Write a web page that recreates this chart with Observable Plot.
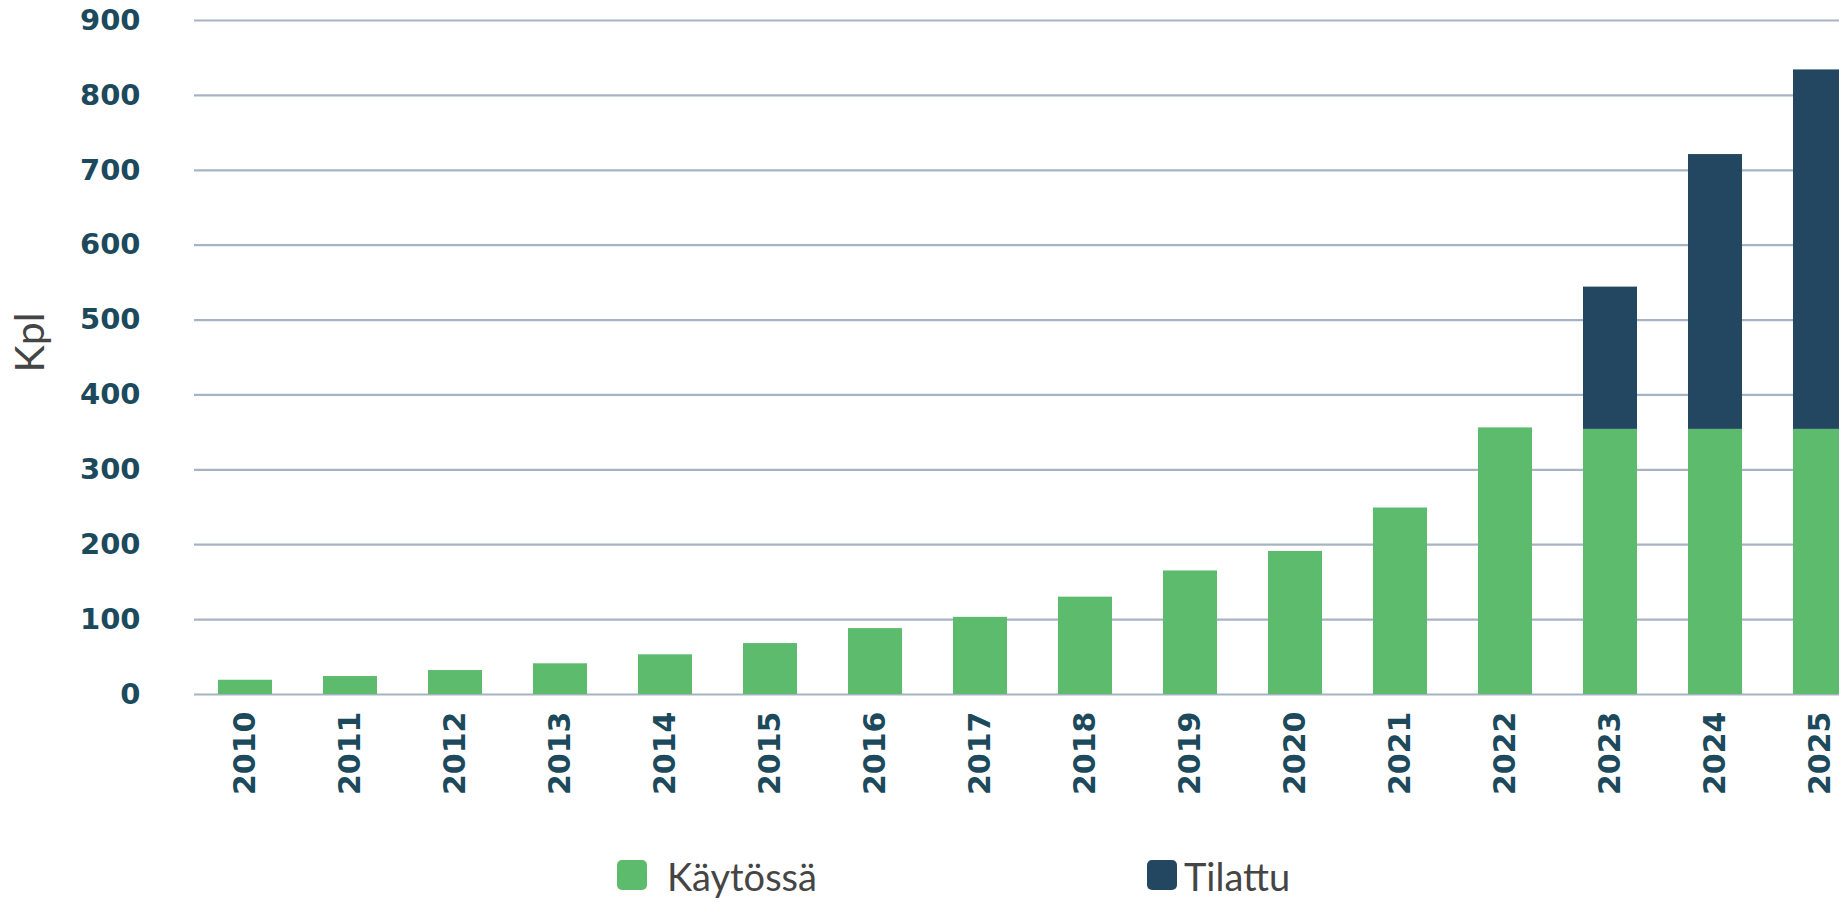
<!DOCTYPE html>
<html>
<head>
<meta charset="utf-8">
<script src="https://cdn.jsdelivr.net/npm/d3@7"></script>
<script src="https://cdn.jsdelivr.net/npm/@observablehq/plot@0.6"></script>
<style>
  html, body { margin: 0; padding: 0; background: #fff; overflow: hidden; }
  #wrap { position: relative; width: 1839px; height: 902px; overflow: hidden; }
  #legend { position: relative; width: 1839px; height: 62px; font-family: Lato, "Open Sans", sans-serif; color: #454545; }
  .sw { position: absolute; width: 30px; height: 30px; border-radius: 5px; }
  .lt { position: absolute; font-size: 38px; line-height: 38px; }
</style>
</head>
<body>
<div id="wrap">
  <div id="chart"></div>
  <div id="legend"></div>
</div>
<script>
const years = ["2010","2011","2012","2013","2014","2015","2016","2017","2018","2019","2020","2021","2022","2023","2024","2025"];
const kaytossa = [19, 24, 32, 41, 53, 68, 88, 103, 130, 165, 191, 249, 356, 354, 354, 354];
const tilattu  = [0, 0, 0, 0, 0, 0, 0, 0, 0, 0, 0, 0, 0, 190, 367, 480];
const seriesNames = ["Käytössä", "Tilattu"];
const seriesColors = ["#5cbb6d", "#244761"];
const yTicks = [0, 100, 200, 300, 400, 500, 600, 700, 800, 900];
const yLabel = "Kpl";

const rows = [];
years.forEach((y, i) => {
  rows.push({year: y, series: seriesNames[0], value: kaytossa[i]});
  rows.push({year: y, series: seriesNames[1], value: tilattu[i]});
});

const H = 840;
const chart = Plot.plot({
  width: 1839,
  height: H,
  marginTop: 20,
  marginBottom: H - 694,
  marginLeft: 194,
  marginRight: 0,
  style: {fontFamily: "DejaVu Sans", background: "#fff"},
  x: {type: "band", domain: years, range: [194, 1870], paddingInner: 0.487, paddingOuter: 0.21, label: null},
  y: {domain: [0, 900], range: [694, 20], label: null},
  color: {domain: seriesNames, range: seriesColors},
  marks: [
    Plot.ruleY(yTicks, {stroke: "#a7b3c3", strokeWidth: 2.2}),
    Plot.barY(rows, {x: "year", y: "value", fill: "series", order: seriesNames}),
    Plot.axisY(yTicks, {tickSize: 0, tickPadding: 54, fontSize: 29, fontWeight: "bold", fill: "#1c4a5c", label: null, fontFamily: "DejaVu Sans"}),
    Plot.axisX({tickSize: 0, tickPadding: 17, tickRotate: -90, fontSize: 30, fontWeight: "bold", fill: "#1c4a5c", label: null, fontFamily: "DejaVu Sans"}),
    Plot.text([yLabel], {frameAnchor: "left", textAnchor: "middle", dx: -164, dy: -15, rotate: -90, fontSize: 41, fill: "#454545", fontFamily: "Lato"})
  ]
});
document.getElementById("chart").appendChild(chart);

const legend = document.getElementById("legend");
const items = [
  {name: seriesNames[0], color: seriesColors[0], sx: 617, tx: 667},
  {name: seriesNames[1], color: seriesColors[1], sx: 1147, tx: 1184}
];
items.forEach(it => {
  const s = document.createElement("div");
  s.className = "sw";
  s.style.left = it.sx + "px";
  s.style.top = "20px";
  s.style.background = it.color;
  legend.appendChild(s);
  const t = document.createElement("div");
  t.className = "lt";
  t.style.left = it.tx + "px";
  t.style.top = "17px";
  t.textContent = it.name;
  legend.appendChild(t);
});
</script>
</body>
</html>
